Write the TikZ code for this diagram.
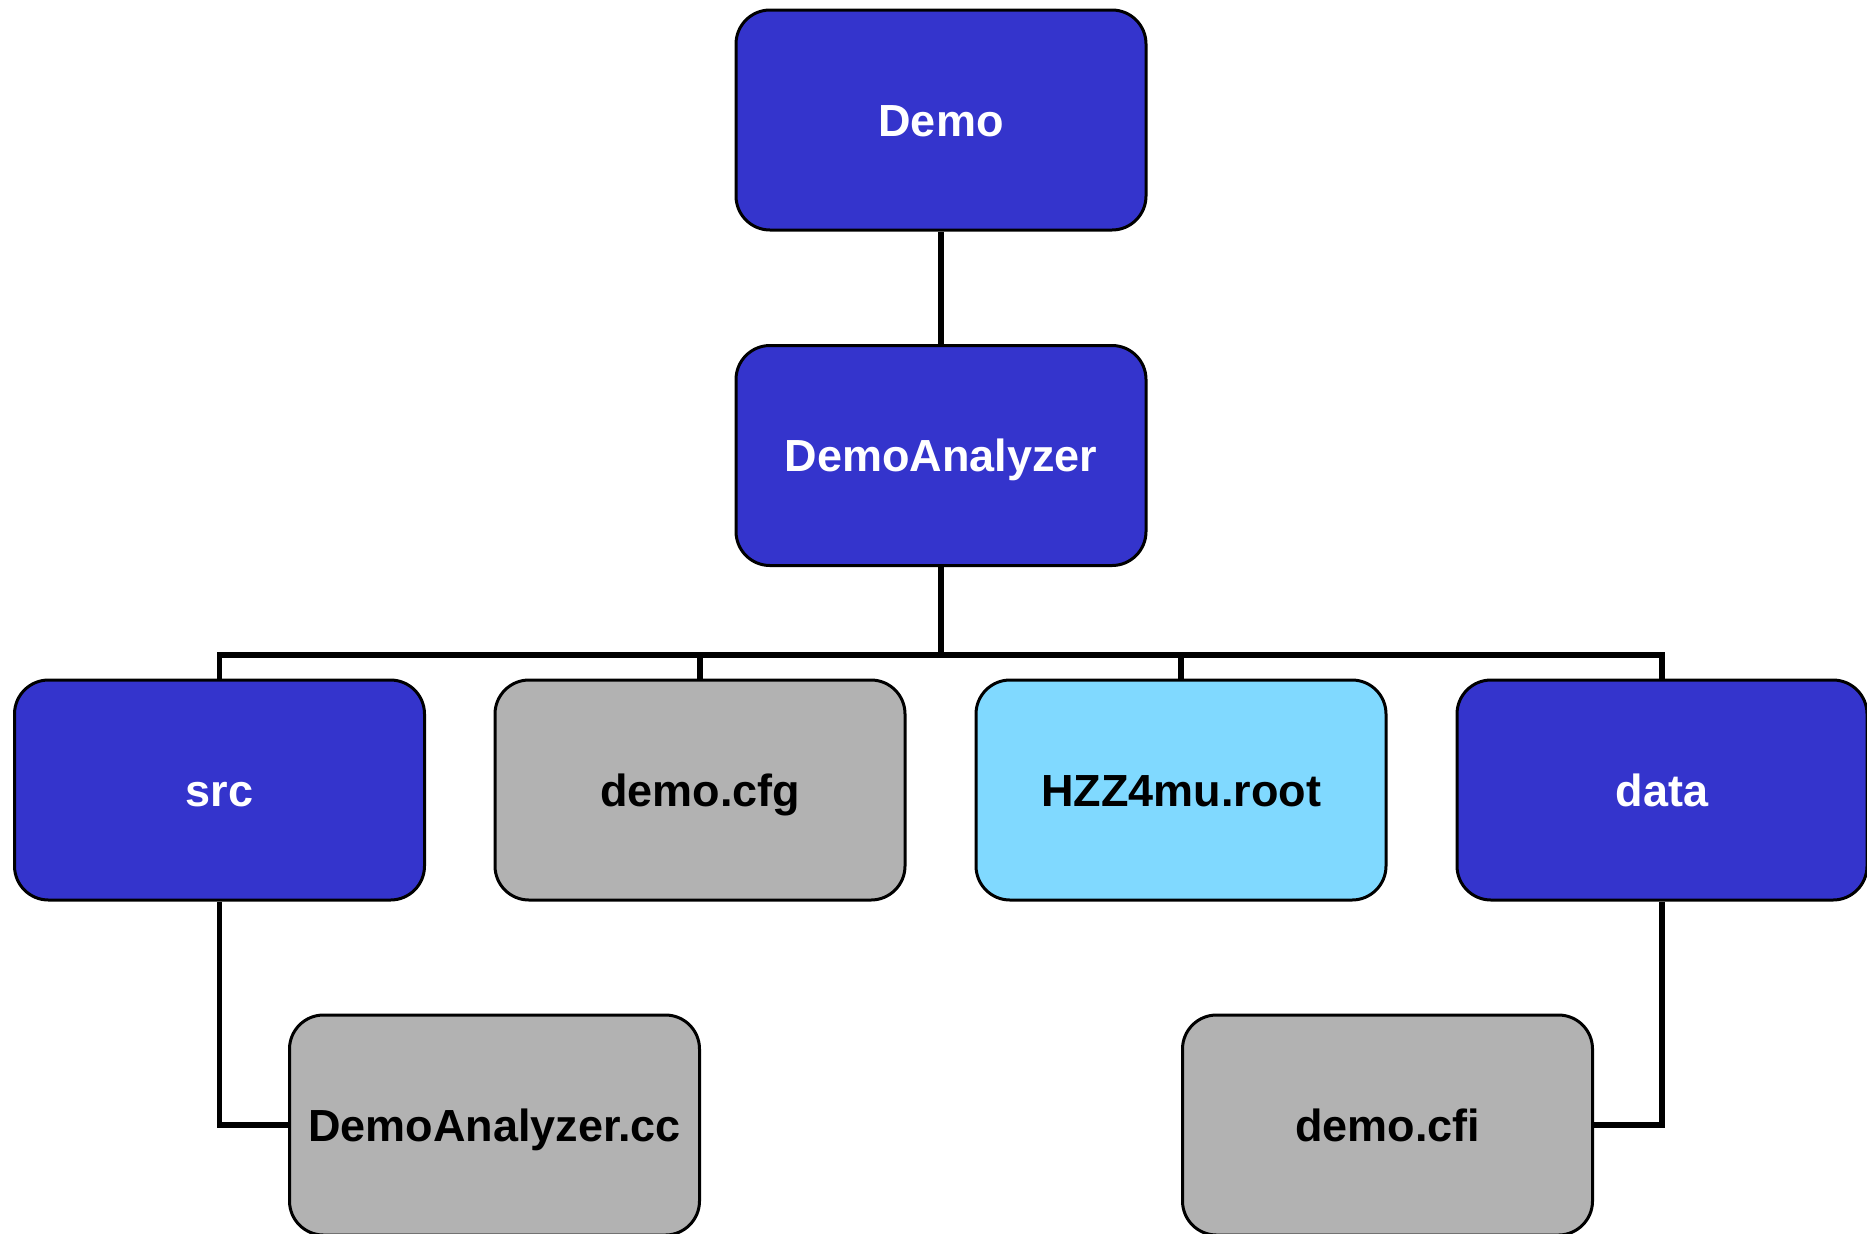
\documentclass[tikz,border=0pt]{standalone}
\usepackage{fontspec}
\setmainfont{Liberation Sans}
\definecolor{dirblue}{HTML}{3434CC}
\definecolor{filegray}{HTML}{B2B2B2}
\definecolor{rootblue}{HTML}{80D9FF}
\begin{document}
\begin{tikzpicture}[x=0.5pt,y=-0.5pt,
	box/.style={draw=black, line width=1.5pt, rounded corners=17pt,
		minimum width=205pt, minimum height=110pt,
		text height=21.7pt, text depth=5.6pt,
		font=\fontsize{22.5}{27}\selectfont\bfseries},
	dirbox/.style={box, fill=dirblue, text=white},
	filebox/.style={box, fill=filegray, text=black},
	rootbox/.style={box, fill=rootblue, text=black},
	link/.style={line width=2.6pt}]
	\useasboundingbox (0,0) rectangle (1867,1233);

	\node[dirbox] (demo) at (941,120) {Demo};
	\node[dirbox] (ana) at (941,455.5) {DemoAnalyzer};

	\node[dirbox] (src) at (219.5,790) {src};
	\node[filebox] (cfg) at (700,790) {demo.cfg};
	\node[rootbox] (root) at (1181,790) {HZZ4mu.root};
	\node[dirbox] (data) at (1662,790) {data};

	\node[filebox] (cc) at (494.5,1125) {DemoAnalyzer.cc};
	\node[filebox] (cfi) at (1387.5,1125) {demo.cfi};

	\coordinate (bus) at (941,655);

	\draw[link] (demo.south) -- (ana.north);
	\draw[link] (ana.south) -- (bus);
	\foreach \n in {src,cfg,root,data}
		\draw[link] (bus) -| (\n.north);

	\draw[link] (src.south) |- (cc.west);
	\draw[link] (data.south) |- (cfi.east);
\end{tikzpicture}
\end{document}
